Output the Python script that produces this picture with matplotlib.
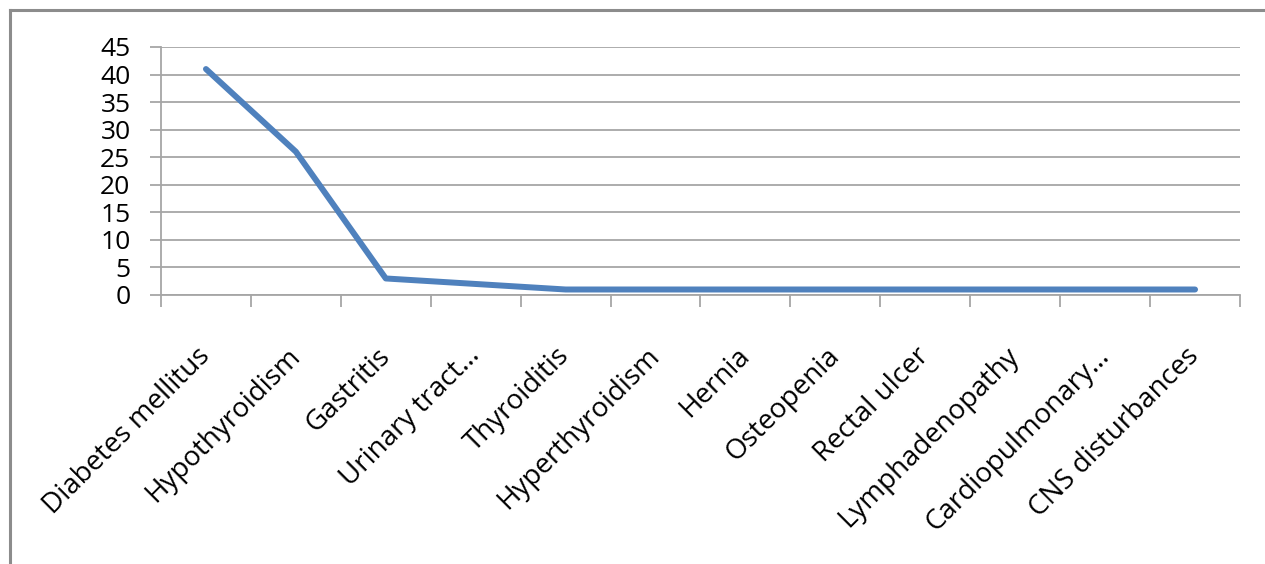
import matplotlib.pyplot as plt
from matplotlib.lines import Line2D
import numpy as np

categories = ['Diabetes mellitus', 'Hypothyroidism', 'Gastritis', 'Urinary tract\u2026',
              'Thyroiditis', 'Hyperthyroidism', 'Hernia', 'Osteopenia', 'Rectal ulcer',
              'Lymphadenopathy', 'Cardiopulmonary\u2026', 'CNS disturbances']
cases = [41, 26, 3, 2, 1, 1, 1, 1, 1, 1, 1, 1]
y_ticks = [0, 5, 10, 15, 20, 25, 30, 35, 40, 45]

plt.rcParams['font.family'] = ['Open Sans', 'DejaVu Sans']
grey = '#a6a6a6'

fig = plt.figure(figsize=(12.65, 5.64), dpi=100)
ax = fig.add_axes([161/1265, 1 - 295/564, (1240 - 161)/1265, (295 - 47)/564])

x = np.arange(len(categories))
ax.plot(x, cases, color='#4f81bd', lw=4.3, solid_capstyle='round', solid_joinstyle='round', zorder=3)

ax.set_xlim(-0.5, len(categories) - 0.5)
ax.set_ylim(0, 45)

# y axis: gridlines at every 5 with outward ticks
ax.set_yticks(y_ticks)
ax.set_yticklabels([str(v) for v in y_ticks], fontsize=19)
ax.yaxis.grid(True, color=grey, lw=1.3)
ax.tick_params(axis='y', length=8, width=1.3, color=grey, pad=14)
ax.set_axisbelow(True)

# x axis: tick marks between categories, labels at category centres
ax.set_xticks(np.arange(-0.5, len(categories)), minor=True)
ax.tick_params(axis='x', which='minor', length=8.5, width=1.3, color=grey)
ax.set_xticks(x)
ax.set_xticklabels(categories, fontsize=20, rotation=45, ha='right', va='center',
                   rotation_mode='anchor')
ax.tick_params(axis='x', which='major', length=0, pad=41)

for side in ['top', 'right']:
    ax.spines[side].set_visible(False)
for side in ['left', 'bottom']:
    ax.spines[side].set_color(grey)
    ax.spines[side].set_linewidth(1.3)

# chart-area frame, only the top and left edges fall inside the image
fx = 10 / 1265
fy = 1 - 10 / 564
fig.add_artist(Line2D([fx, fx], [0, fy], color='#8c8c8c', lw=2.2, transform=fig.transFigure))
fig.add_artist(Line2D([fx, 1], [fy, fy], color='#8c8c8c', lw=2.2, transform=fig.transFigure))

fig.savefig('out.png', dpi=100)
